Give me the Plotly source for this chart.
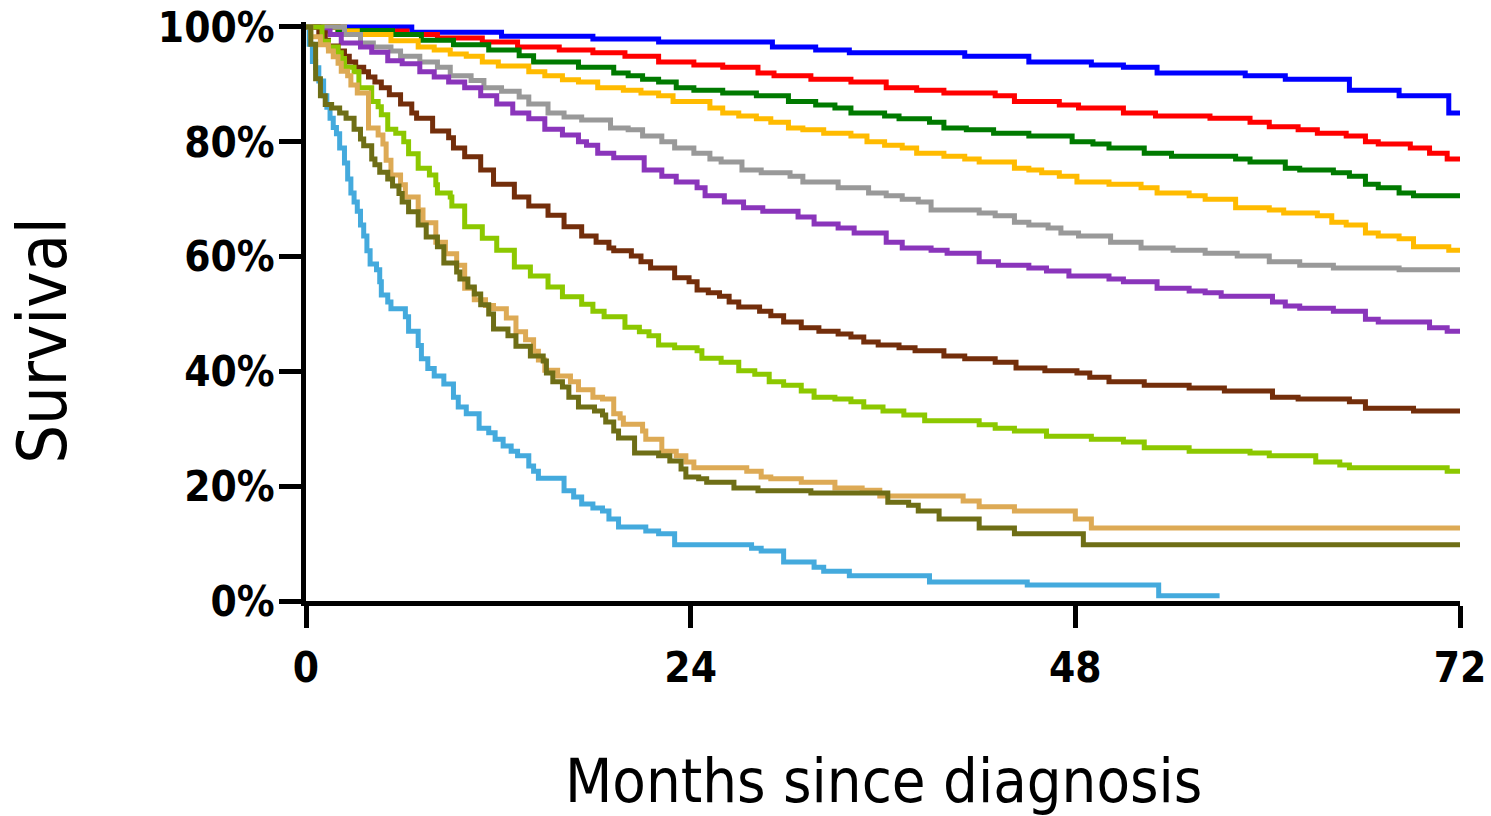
import plotly.graph_objects as go

# ---------------- data (months, survival %) ----------------
blue_t = [0, 6.6, 12.2, 17.9, 22.0, 29.1, 31.8, 33.9, 41.1, 45.1, 49.0, 51.0, 53.1, 58.6, 61.1, 65.1, 68.2, 71.3, 72]
blue_s = [100, 99.1, 98.4, 97.9, 97.4, 96.5, 96.0, 95.5, 94.9, 93.9, 93.4, 93.0, 92.0, 91.5, 90.9, 89.0, 88.0, 85.0, 85.0]

red_t = [0, 2.0, 6.3, 8.2, 11.0, 13.2, 15.8, 17.9, 19.9, 22.0, 24.2, 26.0, 28.2, 29.2, 31.5, 34.0, 36.2, 38.1,
         39.8, 43.0, 44.2, 47.0, 48.2, 51.0, 53.0, 56.4, 58.9, 60.1, 61.9, 63.1, 64.9, 66.1, 66.9, 68.9, 70.1, 71.2, 72]
red_s = [100, 99.3, 98.7, 98.1, 97.4, 96.5, 96.0, 95.5, 94.9, 93.9, 93.4, 93.0, 92.0, 91.5, 90.9, 90.4, 89.4, 89.0,
         88.5, 88.0, 87.0, 86.4, 85.9, 85.0, 84.5, 84.1, 83.4, 82.6, 82.1, 81.5, 81.0, 80.0, 79.6, 78.9, 78.0, 77.0, 77.0]

green_t = [0, 2.0, 5.4, 7.2, 9.2, 11.4, 13.3, 14.2, 17.0, 19.2, 20.1, 21.0, 22.0, 23.1, 24.2, 26.0, 28.1, 30.1, 31.8,
           33.0, 34.0, 36.1, 37.0, 38.9, 39.8, 41.2, 42.9, 45.1, 47.8, 49.1, 50.1, 52.3, 54.0, 58.0, 58.9, 61.1, 62.0,
           64.1, 65.1, 66.1, 66.9, 68.2, 69.1, 72]
green_s = [100, 99.4, 98.7, 97.7, 96.9, 96.0, 95.0, 93.9, 93.0, 92.0, 91.5, 90.9, 90.4, 89.4, 89.0, 88.5, 88.0, 87.0, 86.4,
           85.9, 85.0, 84.5, 84.0, 83.4, 82.4, 82.1, 81.5, 81.0, 80.0, 79.6, 78.9, 78.0, 77.5, 77.0, 76.5, 75.4, 75.1,
           74.6, 74.0, 72.6, 72.0, 71.1, 70.6, 70.6]

orange_t = [0, 2.4, 3.2, 5.3, 7.0, 8.0, 9.0, 10.0, 11.0, 12.0, 13.9, 14.9, 16.0, 17.0, 18.2, 19.8, 20.9, 22.0, 22.9,
            25.2, 26.0, 27.0, 28.1, 29.0, 30.1, 31.0, 32.3, 34.0, 35.0, 36.1, 37.2, 38.1, 39.8, 41.1, 42.0, 44.2, 45.1,
            45.9, 47.0, 48.1, 50.1, 52.1, 53.1, 55.1, 56.1, 58.0, 60.1, 61.0, 63.1, 64.0, 64.9, 66.1, 66.9, 68.2, 69.1,
            71.3, 72]
orange_s = [100, 99.3, 98.7, 97.6, 96.5, 96.0, 95.3, 94.9, 93.9, 93.2, 92.2, 91.5, 90.8, 90.4, 89.4, 89.0, 88.5, 88.0, 87.0,
            85.9, 85.0, 84.5, 84.0, 83.4, 82.4, 82.1, 81.5, 81.0, 80.0, 79.4, 78.9, 78.0, 77.5, 77.0, 76.5, 75.4, 75.1,
            74.6, 74.0, 73.0, 72.6, 72.0, 71.1, 70.6, 70.0, 68.5, 68.1, 67.6, 67.1, 66.0, 65.5, 64.1, 63.6, 63.1, 61.7,
            61.1, 61.1]

gray_t = [0, 2.4, 3.4, 4.2, 5.3, 5.9, 7.1, 8.2, 9.0, 10.3, 11.1, 12.2, 13.3, 13.9, 15.1, 16.1, 17.2, 19.0, 20.1, 21.0,
          22.2, 23.0, 24.2, 25.2, 25.9, 27.2, 28.4, 30.2, 31.0, 33.2, 35.1, 36.2, 37.2, 38.2, 39.0, 42.0, 43.0, 44.2,
          45.1, 46.3, 47.1, 48.2, 50.2, 52.1, 54.1, 56.1, 58.1, 60.1, 62.0, 64.1, 68.2, 72]
gray_s = [100, 98.7, 97.2, 96.5, 95.8, 94.9, 93.9, 93.0, 91.5, 90.7, 89.4, 88.8, 87.8, 86.6, 85.0, 84.3, 83.8, 82.4, 82.1, 81.0,
          80.0, 78.9, 78.0, 77.0, 76.5, 75.1, 74.6, 74.0, 73.0, 72.0, 71.1, 70.6, 70.0, 69.5, 68.1, 67.6, 67.1, 66.0,
          65.5, 65.0, 64.1, 63.6, 62.5, 61.5, 61.1, 60.6, 60.1, 59.1, 58.5, 58.0, 57.7, 57.7]

purple_t = [0, 0.9, 1.5, 2.2, 3.4, 4.1, 5.1, 6.0, 7.1, 8.0, 8.9, 9.9, 10.9, 11.9, 12.9, 13.9, 14.9, 16.0, 17.0, 17.5,
            18.2, 19.2, 21.1, 22.2, 23.1, 24.4, 24.9, 26.1, 27.3, 28.5, 30.7, 31.7, 33.2, 34.2, 36.2, 37.2, 39.0, 40.0,
            42.0, 43.2, 45.1, 46.2, 47.6, 50.1, 51.0, 53.1, 55.1, 56.1, 57.1, 60.3, 61.1, 62.0, 64.1, 66.1, 66.9, 70.1,
            71.2, 72]
purple_s = [100, 99.3, 98.7, 97.2, 96.5, 95.6, 94.1, 93.6, 92.2, 91.3, 90.4, 89.4, 88.0, 86.6, 85.0, 84.0, 82.2, 81.2, 80.0, 79.4,
            78.0, 77.2, 75.1, 74.0, 73.0, 72.0, 70.6, 69.5, 68.5, 67.9, 66.9, 65.7, 65.0, 64.1, 62.5, 61.5, 61.1, 60.6,
            59.1, 58.5, 58.0, 57.5, 56.6, 56.1, 55.6, 54.5, 54.0, 53.7, 53.1, 52.1, 51.4, 51.0, 50.5, 49.1, 48.6, 47.6,
            47.0, 47.0]

brown_t = [0, 0.8, 1.2, 1.4, 2.0, 2.4, 2.7, 3.1, 3.6, 3.9, 4.3, 4.7, 5.2, 5.9, 6.6, 6.9, 7.9, 8.9, 9.2, 9.9, 10.9,
           11.7, 13.0, 13.9, 15.1, 16.1, 17.2, 18.1, 18.9, 19.2, 20.3, 20.9, 21.5, 23.0, 23.9, 24.4, 25.1, 25.8, 26.4,
           27.0, 28.3, 29.0, 29.8, 30.9, 32.0, 33.2, 34.0, 34.8, 35.7, 37.0, 38.0, 39.8, 41.1, 43.0, 44.3, 46.1, 48.1,
           48.9, 50.1, 52.3, 55.1, 57.3, 60.3, 61.9, 65.1, 66.1, 69.1, 72]
brown_s = [100, 99.0, 97.7, 96.7, 95.8, 94.9, 93.9, 93.0, 92.2, 91.3, 90.4, 89.4, 88.2, 86.6, 85.0, 84.1, 81.9, 80.7, 78.9, 77.4, 75.1,
           72.6, 70.4, 68.8, 67.2, 65.2, 63.6, 62.5, 61.5, 61.0, 60.1, 59.1, 58.0, 56.3, 55.6, 54.2, 53.7, 53.1, 52.1,
           51.2, 50.5, 49.7, 48.6, 47.6, 47.0, 46.5, 46.0, 45.1, 44.6, 44.1, 43.6, 42.7, 42.2, 41.6, 40.6, 40.1, 39.7,
           39.0, 38.2, 37.6, 37.1, 36.6, 35.5, 35.2, 34.7, 33.6, 33.1, 33.1]

lime_t = [0, 1.0, 1.4, 2.0, 2.2, 2.4, 3.0, 3.3, 4.1, 4.5, 4.7, 5.1, 5.6, 6.1, 6.4, 7.0, 7.7, 8.1, 8.2, 9.0, 9.1, 9.9,
          11.0, 11.9, 13.0, 14.0, 15.1, 16.0, 17.2, 17.9, 18.6, 19.9, 20.8, 21.4, 22.0, 23.0, 24.4, 24.7, 25.9, 27.0,
          28.0, 28.9, 29.8, 30.9, 31.7, 33.0, 34.0, 34.8, 36.0, 37.3, 38.6, 42.0, 43.0, 44.2, 46.2, 49.0, 51.0, 52.3,
          55.1, 58.9, 60.1, 63.0, 64.5, 65.1, 71.2, 72]
lime_s = [100, 97.5, 96.5, 95.5, 94.5, 93.0, 92.2, 89.4, 87.0, 86.1, 84.7, 82.2, 81.5, 80.0, 77.9, 75.4, 74.2, 72.5, 71.1, 70.4, 68.8, 65.2,
          63.2, 61.1, 58.2, 56.6, 54.7, 53.0, 51.7, 50.5, 49.5, 47.7, 46.9, 46.2, 44.6, 44.1, 43.6, 42.3, 41.6, 40.1,
          39.5, 38.2, 37.6, 36.6, 35.5, 35.2, 34.7, 33.8, 33.1, 32.4, 31.4, 30.7, 30.1, 29.6, 28.7, 28.2, 27.7, 26.7,
          26.1, 25.8, 25.3, 24.2, 23.7, 23.2, 22.6, 22.6]

tan_t = [0, 0.3, 0.9, 1.4, 1.7, 2.0, 2.2, 2.6, 2.8, 3.2, 3.9, 4.5, 4.8, 5.0, 5.3, 5.9, 6.2, 7.0, 7.3, 8.1, 8.7, 9.4,
         9.9, 10.5, 11.2, 11.7, 12.5, 13.1, 13.7, 14.2, 14.5, 14.9, 15.7, 16.5, 17.0, 17.9, 18.5, 19.2, 19.6, 19.8,
         21.0, 21.2, 22.2, 23.1, 23.7, 24.2, 27.5, 28.4, 29.0, 30.9, 33.0, 34.7, 35.8, 41.0, 42.0, 44.2, 48.0, 49.0, 72]
tan_s = [100, 98.3, 96.9, 95.8, 94.8, 93.7, 92.3, 91.5, 89.9, 88.5, 82.4, 81.2, 79.6, 76.8, 74.2, 72.5, 70.4, 68.1, 65.9, 62.5, 60.5, 58.5,
         54.5, 52.5, 51.5, 50.9, 49.3, 46.9, 45.5, 43.5, 42.0, 40.2, 39.2, 38.2, 36.8, 35.5, 35.2, 32.6, 31.9, 30.8,
         29.6, 28.2, 26.1, 25.3, 24.2, 23.2, 22.6, 21.6, 21.3, 20.7, 19.7, 19.3, 18.3, 17.4, 16.4, 15.7, 14.3, 12.7, 12.7]

olive_t = [0, 0.3, 0.6, 0.9, 1.2, 1.6, 2.1, 2.5, 3.0, 3.4, 3.6, 4.1, 4.3, 4.6, 5.1, 5.4, 5.8, 6.0, 6.4, 7.0, 7.5, 8.2,
           8.6, 9.4, 9.6, 10.1, 10.5, 10.9, 11.4, 11.7, 12.6, 13.1, 14.0, 14.8, 15.0, 15.4, 16.0, 16.4, 17.0, 18.0,
           18.5, 18.7, 19.2, 19.5, 20.5, 22.0, 22.7, 23.4, 23.7, 24.5, 25.0, 26.7, 28.2, 31.5, 36.3, 37.6, 38.2, 39.5,
           42.0, 44.2, 48.5, 72]
olive_s = [100, 97.0, 91.0, 88.0, 86.5, 85.9, 85.0, 84.1, 82.2, 80.5, 79.3, 77.0, 76.0, 74.7, 73.5, 72.3, 71.0, 69.5, 67.8, 65.5, 63.4, 61.7,
           58.9, 57.3, 56.1, 54.7, 53.5, 51.6, 50.0, 47.4, 46.2, 44.4, 42.7, 41.8, 39.7, 38.2, 37.3, 35.5, 33.8, 33.1,
           32.4, 31.2, 29.6, 28.4, 25.8, 25.3, 24.4, 23.0, 21.6, 21.3, 20.7, 19.7, 19.2, 18.8, 17.2, 16.7, 15.7, 14.3,
           12.7, 11.7, 9.8, 9.8]

sky_t = [0, 0.2, 0.4, 0.6, 0.8, 1.1, 1.3, 1.5, 1.7, 1.9, 2.1, 2.4, 2.6, 2.8, 3.0, 3.2, 3.4, 3.6, 3.8, 4.0, 4.4, 4.6,
         4.7, 5.1, 5.3, 6.2, 6.4, 7.0, 7.2, 7.6, 8.0, 8.6, 9.2, 9.5, 10.0, 10.8, 11.4, 11.8, 12.3, 12.8, 13.2, 13.9,
         14.2, 14.5, 16.1, 16.7, 17.2, 17.9, 18.5, 18.9, 19.5, 21.2, 22.0, 23.0, 27.8, 28.4, 29.8, 31.7, 32.3, 33.9,
         38.9, 45.0, 53.2, 57.0]
sky_s = [100, 97.0, 94.0, 92.9, 90.6, 88.0, 86.0, 84.1, 82.5, 81.4, 78.9, 76.3, 73.5, 71.1, 69.5, 67.9, 65.5, 63.6, 61.0, 58.7, 57.7, 55.6,
         53.3, 52.1, 50.9, 49.5, 47.0, 44.5, 42.2, 40.5, 39.2, 37.8, 35.5, 33.8, 32.6, 30.1, 29.3, 28.2, 27.0, 26.1, 25.3, 23.5,
         22.6, 21.4, 19.2, 18.1, 16.9, 16.2, 15.7, 14.3, 12.9, 12.2, 11.7, 9.8, 9.2, 8.7, 6.8, 5.9, 5.2, 4.4,
         3.3, 2.8, 0.9, 0.9]

x_ticks = [0, 24, 48, 72]
y_ticks = [0, 20, 40, 60, 80, 100]
y_tick_labels = ["0%", "20%", "40%", "60%", "80%", "100%"]
x_title = "Months since diagnosis"
y_title = "Survival"

# ---------------- styling ----------------
series = [
    ("blue", blue_t, blue_s, "#0000FF"),
    ("red", red_t, red_s, "#FF0000"),
    ("green", green_t, green_s, "#007A00"),
    ("orange", orange_t, orange_s, "#FFBB00"),
    ("gray", gray_t, gray_s, "#999999"),
    ("purple", purple_t, purple_s, "#8A35BB"),
    ("brown", brown_t, brown_s, "#732E0B"),
    ("lime", lime_t, lime_s, "#8CC800"),
    ("sky", sky_t, sky_s, "#44AADD"),
    ("tan", tan_t, tan_s, "#DDAA55"),
    ("olive", olive_t, olive_s, "#6E6E16"),
]

fig = go.Figure()
for name, t, s, col in series:
    fig.add_trace(go.Scatter(x=t, y=s, mode="lines", name=name,
                             line=dict(color=col, width=5, shape="hv"),
                             hoverinfo="skip", showlegend=False))

tick_font = dict(family="DejaVu Sans Condensed, sans-serif",
                 size=42, color="black", weight=700)
title_family = "DejaVu Sans Condensed, sans-serif"

fig.update_layout(
    width=1491, height=816,
    margin=dict(l=306, r=31, t=22, b=215, autoexpand=False),
    paper_bgcolor="white", plot_bgcolor="white",
    showlegend=False,
    xaxis=dict(range=[0, 72], tickmode="array", tickvals=x_ticks, ticktext=[str(v) for v in x_ticks],
               showgrid=False, zeroline=False, showline=True, linecolor="black", linewidth=5,
               ticks="outside", ticklen=22, tickwidth=5, tickcolor="black",
               tickfont=tick_font, ticklabelstandoff=4, automargin=False),
    yaxis=dict(range=[0, 100.87], tickmode="array", tickvals=y_ticks, ticktext=y_tick_labels,
               showgrid=False, zeroline=False, showline=True, linecolor="black", linewidth=5,
               ticks="outside", ticklen=22, tickwidth=5, tickcolor="black",
               tickfont=tick_font, ticklabelstandoff=-4, automargin=False),
    annotations=[
        dict(text=x_title, xref="paper", yref="paper", x=0.5, y=-0.2445, xanchor="center", yanchor="top",
             showarrow=False, font=dict(family=title_family, size=61, color="black")),
        dict(text=y_title, xref="paper", yref="paper", x=-0.228, y=0.451, xanchor="center", yanchor="middle",
             textangle=-90, showarrow=False, font=dict(family=title_family, size=68, color="black")),
    ],
)

fig.write_html("out.html")
